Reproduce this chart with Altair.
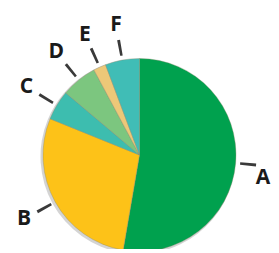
import altair as alt
import pandas as pd

cats = ["A", "B", "C", "D", "E", "F"]
values = [52.5, 28.3, 5.0, 6.0, 2.1, 5.7]
colors = ["#00A14E", "#FDC218", "#3DBDAF", "#7CC67F", "#EDC878", "#40BDB6"]

total = sum(values)
df = pd.DataFrame({"cat": cats, "value": values, "idx": list(range(len(cats)))})

theta_scale = alt.Scale(domain=[0, total])
cx, cy = 131.5, 147

base = alt.Chart(df)
mids = base.transform_window(
    cum="sum(value)", sort=[alt.SortField("idx")]
).transform_calculate(
    mid="datum.cum - datum.value / 2",
    t1="datum.cum - datum.value / 2 - 0.2",
    t2="datum.cum - datum.value / 2 + 0.2",
)

shadow = base.mark_arc(radius=97.5, color="#c9c9c9", opacity=0.8).encode(
    theta=alt.Theta("value:Q", stack=True, scale=theta_scale),
    order=alt.Order("idx:Q"),
    x=alt.value(cx - 1.5),
    y=alt.value(cy + 1.5),
)

pie = base.mark_arc(radius=96.5, stroke="#8a8a6a", strokeWidth=0.6, strokeOpacity=0.6).encode(
    theta=alt.Theta("value:Q", stack=True, scale=theta_scale),
    color=alt.Color("cat:N", scale=alt.Scale(domain=cats, range=colors), legend=None),
    order=alt.Order("idx:Q"),
    x=alt.value(cx),
    y=alt.value(cy),
)

text_style = dict(font="Open Sans", fontWeight="bold", fontSize=21,
                  color="#1a1a1a", align="center", baseline="middle")

labels_left = mids.transform_filter("datum.mid > 50").mark_text(radius=132, **text_style).encode(
    theta=alt.Theta("mid:Q", stack=False, scale=theta_scale),
    text="cat:N",
    x=alt.value(cx),
    y=alt.value(cy),
)

labels_right = mids.transform_filter("datum.mid <= 50").mark_text(radius=124, dy=12, **text_style).encode(
    theta=alt.Theta("mid:Q", stack=False, scale=theta_scale),
    text="cat:N",
    x=alt.value(cx),
    y=alt.value(cy),
)

leaders = mids.mark_arc(radius=101, radius2=117, color="#3a3a3a", strokeDash=[3, 1]).encode(
    theta=alt.Theta("t1:Q", stack=False, scale=theta_scale),
    theta2="t2:Q",
    x=alt.value(cx),
    y=alt.value(cy),
)

chart = alt.layer(shadow, pie, leaders, labels_left, labels_right).properties(
    width=263, height=241, padding=0, autosize=alt.AutoSizeParams(type="none")
).configure_view(stroke=None)

chart.save("out.html", embed_options={"renderer": "svg", "actions": False})
